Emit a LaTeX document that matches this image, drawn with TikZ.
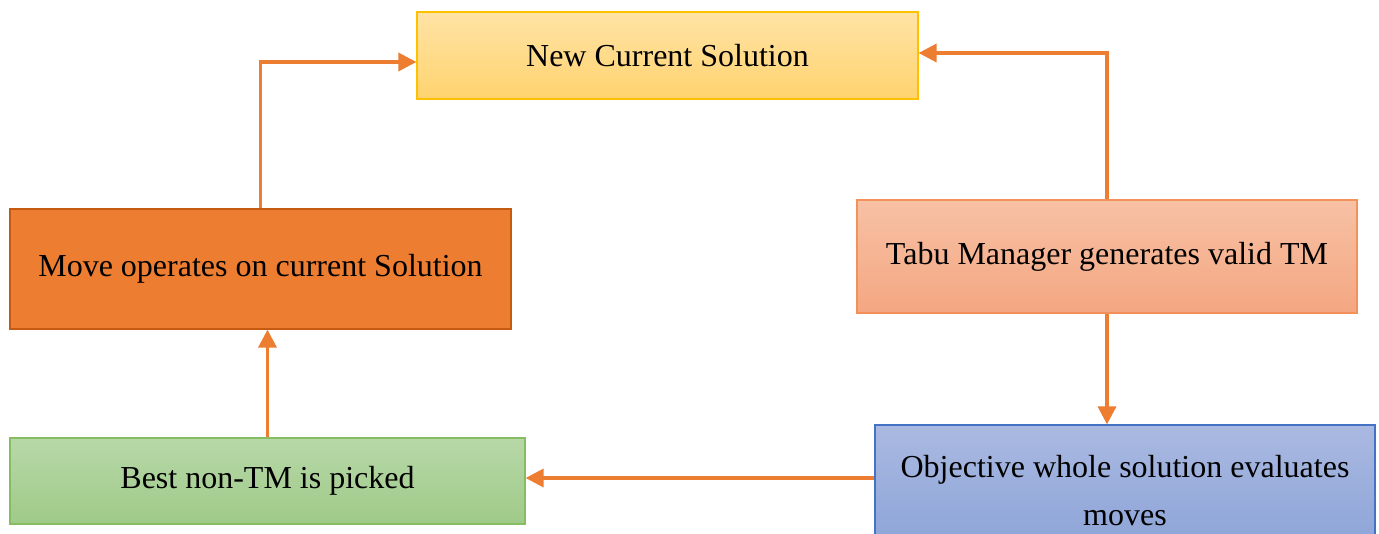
\documentclass[tikz,border=0pt]{standalone}
\usepackage{fontspec}
\setmainfont{Liberation Serif}
\usepackage{tikz}
\usetikzlibrary{arrows.meta}
\usepackage{xcolor}

\definecolor{arr}{HTML}{ED7D31}
\definecolor{ylwtop}{HTML}{FFE3A6}
\definecolor{ylwbot}{HTML}{FFD36E}
\definecolor{ylwline}{HTML}{FFC000}
\definecolor{orgfill}{HTML}{ED7D31}
\definecolor{orgline}{HTML}{C55A11}
\definecolor{slmtop}{HTML}{F7C1A5}
\definecolor{slmbot}{HTML}{F4A781}
\definecolor{slmline}{HTML}{F4915A}
\definecolor{grntop}{HTML}{B7D8A8}
\definecolor{grnbot}{HTML}{9FCA88}
\definecolor{grnline}{HTML}{86BC62}
\definecolor{blutop}{HTML}{AAB9E1}
\definecolor{blubot}{HTML}{8AA3D7}
\definecolor{bluline}{HTML}{4472C4}

\tikzset{
  box/.style={rectangle, line width=1.2pt, align=center, inner sep=0pt,
    font=\fontsize{32}{48}\selectfont},
  flow/.style={draw=arr, line width=3.5pt, -{Triangle[length=18pt,width=18pt]}}
}

\begin{document}
\begin{tikzpicture}[x=1pt,y=-1pt]
    \clip (0,0) rectangle (1379,533);
    \useasboundingbox (0,0) rectangle (1379,533);
    \node[box, draw=ylwline, top color=ylwtop, bottom color=ylwbot,
      minimum width=501pt, minimum height=87pt] (ncs) at (667.5,55.5) {New Current Solution};
    \node[box, draw=orgline, fill=orgfill,
      minimum width=501pt, minimum height=120pt] (move) at (260.5,269) {Move operates on current Solution};
    \node[box, draw=slmline, top color=slmtop, bottom color=slmbot,
      minimum width=500pt, minimum height=113pt] (tabu) at (1107,256.5) {Tabu Manager generates valid TM};
    \node[box, draw=grnline, top color=grntop, bottom color=grnbot,
      minimum width=515pt, minimum height=86pt] (best) at (267.5,481) {Best non-TM is picked};
    \node[box, draw=bluline, top color=blutop, bottom color=blubot,
      minimum width=500pt, minimum height=132pt] (obj) at (1125,491) {Objective whole solution evaluates\\moves};
    \draw[flow] (move.north) |- ([yshift=-6.5pt]ncs.west);
    \draw[flow] (tabu.north) |- ([yshift=2.5pt]ncs.east);
    \draw[flow] (tabu.south) -- (tabu.south |- obj.north);
    \draw[flow] (obj.west |- 0,478) -- (best.east |- 0,478);
    \draw[flow] (best.north) -- (best.north |- move.south);
\end{tikzpicture}
\end{document}
